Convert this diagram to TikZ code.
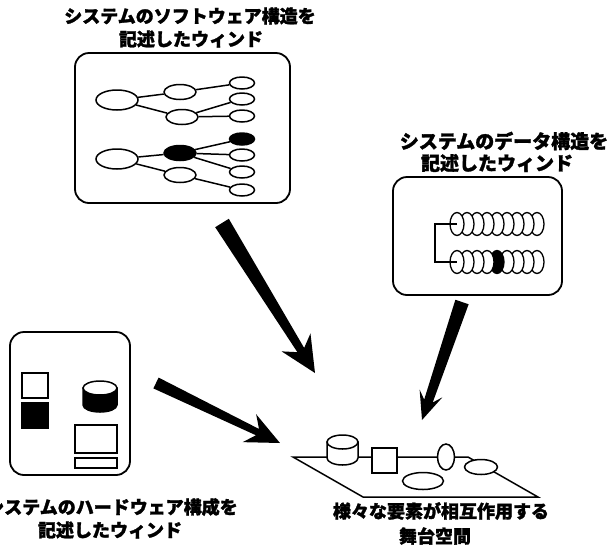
\documentclass[tikz,border=0pt]{standalone}
\usepackage{fontspec}
\newfontfamily\jpfont{Noto Sans CJK JP}[BoldFeatures={FakeBold=1.6}]
\usetikzlibrary{shapes.geometric,calc}

% tapered arrow: tail, tip, tail half-width, neck half-width,
% head half-width, head length, neck setback from tip
\newcommand{\wedgearrow}[7]{%
  \fill let \p1=(#1), \p2=(#2),
    \n1={atan2(\y2-\y1,\x2-\x1)}, \n2={veclen(\x2-\x1,\y2-\y1)} in
    [shift={(\p1)}, rotate=\n1]
    (0,#3) -- (\n2-#7,#4) -- (\n2-#6,#5) -- (\n2,0)
    -- (\n2-#6,-#5) -- (\n2-#7,-#4) -- (0,-#3) -- cycle;}

\tikzset{
  lbl/.style={font=\jpfont\bfseries\fontsize{18pt}{18pt}\selectfont, inner sep=0pt},
  lblwide/.style={font=\jpfont\bfseries\fontsize{19pt}{19pt}\selectfont, inner sep=0pt},
  win/.style={draw, line width=1.8pt, rounded corners=14pt, inner sep=0pt},
  elp/.style={ellipse, draw, line width=1.5pt, fill=white, inner sep=0pt},
  bigel/.style={elp, minimum width=42pt, minimum height=20pt},
  midel/.style={elp, minimum width=32pt, minimum height=15pt},
  leafel/.style={elp, minimum width=25pt, minimum height=12pt},
  disc/.style={elp, minimum width=14pt, minimum height=23pt, line width=1.3pt},
  link/.style={line width=1.5pt},
  thin/.style={line width=1.5pt},
}

\begin{document}
\begin{tikzpicture}[x=1pt, y=-1pt]
\clip (0,0) rectangle (610,547);

% ---- software structure window ----
\node[lbl] (swt1) at (190,16) {システムのソフトウェア構造を};
\node[lbl] (swt2) at (191,39) {記述したウィンド};
\node[win, minimum width=215pt, minimum height=150pt] (swwin) at (182.5,128) {};

\node[bigel]  (r1)  at (117,100) {};
\node[midel]  (m11) at (180,92) {};
\node[midel]  (m12) at (182,117) {};
\node[leafel] (l11) at (242,83) {};
\node[leafel] (l12) at (242,99) {};
\node[leafel] (l13) at (242,116) {};
\draw[link] (r1) -- (m11);
\draw[link] (r1) -- (m12);
\draw[link] (m11) -- (l11);
\draw[link] (m12) -- (l12);
\draw[link] (m12) -- (l13);

\node[bigel]  (r2)  at (117,159) {};
\node[midel, fill=black] (m21) at (180,153) {};
\node[midel]  (m22) at (180,175) {};
\node[leafel, fill=black] (l21) at (242,139) {};
\node[leafel] (l22) at (242,155) {};
\node[leafel] (l23) at (242,172) {};
\node[leafel] (l24) at (242,190) {};
\draw[link] (r2) -- (m21);
\draw[link] (r2) -- (m22);
\draw[link] (m21) -- (l21);
\draw[link] (m21) -- (l22);
\draw[link] (m21) -- (l23);
\draw[link] (m22) -- (l24);

% ---- data structure window ----
\node[lblwide] (dt1) at (504,141) {システムのデータ構造を};
\node[lblwide] (dt2) at (497,163) {記述したウィンド};
\node[win, minimum width=169pt, minimum height=118pt] (dwin) at (477.5,236) {};

\foreach \i in {8,7,...,0}{
  \node[disc] (a\i) at (457+10*\i,224) {};
}
\foreach \i in {8,7,...,0}{
  \ifnum\i=4
    \node[disc, fill=black] (b\i) at (457+10*\i,262) {};
  \else
    \node[disc] (b\i) at (457+10*\i,262) {};
  \fi
}
\draw[link] (a0.center) -- ++(-22,0) |- (b0.center);

% ---- hardware configuration window ----
\node[win, minimum width=120pt, minimum height=143pt] (hwwin) at (70,403.5) {};
\node[lbl] (ht1) at (112,507) {システムのハードウェア構成を};
\node[lbl] (ht2) at (110,530) {記述したウィンド};

\draw[thin] (22,373) rectangle (48,398);
\filldraw[thin] (22,403) rectangle (48,428);
\filldraw[thin] (83,388) -- (83,405)
  arc[start angle=180, end angle=360, x radius=17pt, y radius=7pt] -- (117,388) -- cycle;
\filldraw[thin, fill=white] (100,388) ellipse [x radius=17pt, y radius=7pt];
\draw[thin] (75,425) rectangle (117,453);
\draw[thin] (75,458) rectangle (117,468);

% ---- shared stage ----
\coordinate (s1) at (293,457);
\coordinate (s2) at (468,457);
\coordinate (s3) at (538,497);
\coordinate (s4) at (363,497);
\draw[thin] (s1) -- (s2) -- (s3) -- (s4) -- cycle;

\filldraw[thin, fill=white] (327,442) -- (327,458)
  arc[start angle=180, end angle=360, x radius=15.5pt, y radius=7pt] -- (358,442) -- cycle;
\filldraw[thin, fill=white] (342.5,442) ellipse [x radius=15.5pt, y radius=7pt];
\filldraw[thin, fill=white] (372,448) rectangle (397,473);
\node[elp, minimum width=17pt, minimum height=26pt] (ov1) at (446,457) {};
\node[elp, minimum width=33pt, minimum height=15pt] (ov2) at (481,467) {};
\node[elp, minimum width=41pt, minimum height=17pt] (ov3) at (423,481) {};

\node[lbl] (st1) at (441,511) {様々な要素が相互作用する};
\node[lbl] (st2) at (435,536) {舞台空間};

% ---- arrows into the stage ----
\coordinate (a1s) at (222,223);
\coordinate (a1e) at (315,373);
\coordinate (a2s) at (156,383);
\coordinate (a2e) at (280,443);
\coordinate (a3s) at (462,302);
\coordinate (a3e) at (422,420);
\wedgearrow{a1s}{a1e}{8}{4}{17}{36}{27}
\wedgearrow{a2s}{a2e}{6}{3.5}{15.5}{34}{25}
\wedgearrow{a3s}{a3e}{7}{4.5}{12}{28}{20}
\end{tikzpicture}
\end{document}
